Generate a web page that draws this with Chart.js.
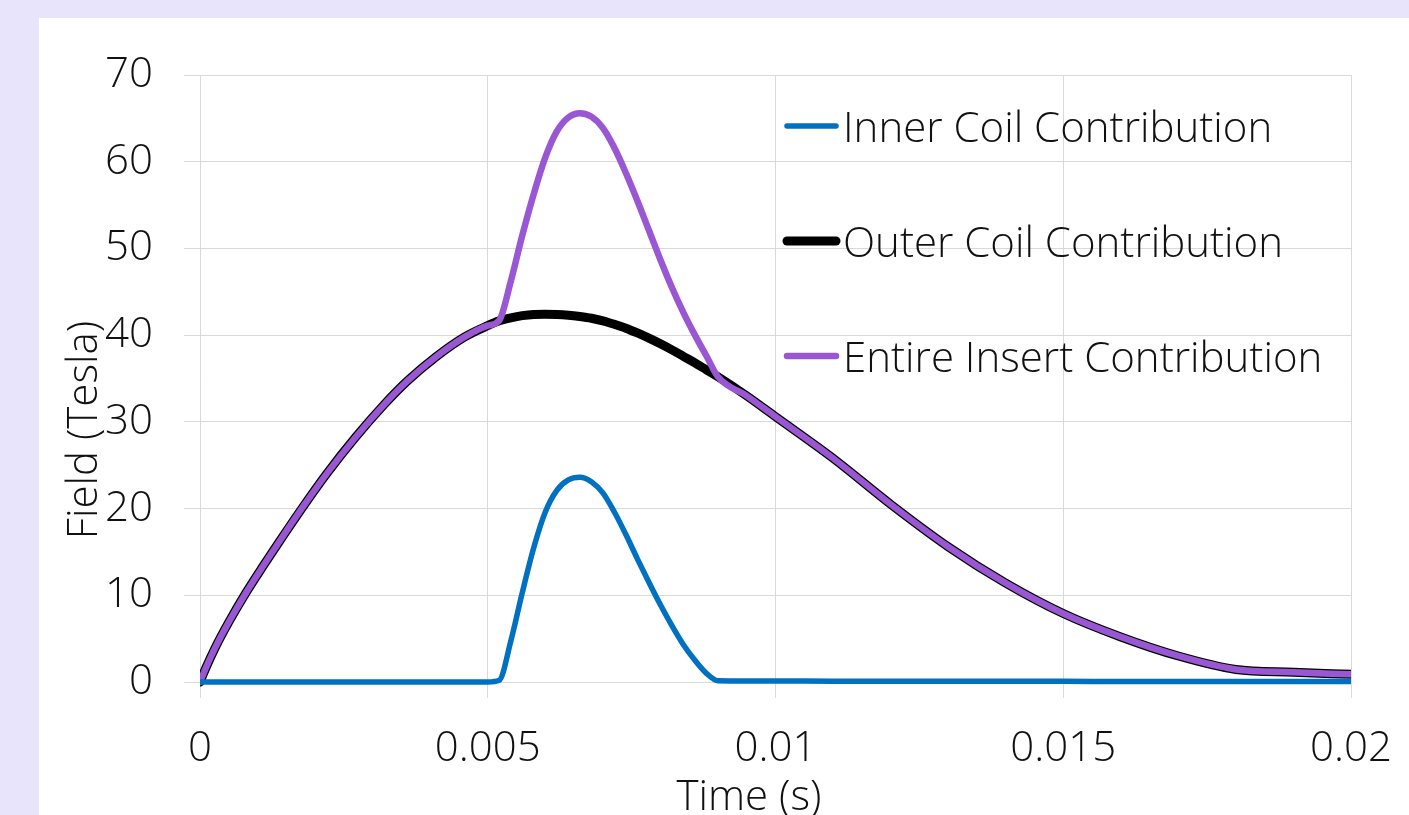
<!DOCTYPE html>
<html><head><meta charset="utf-8">
<script src="https://cdn.jsdelivr.net/npm/chart.js@4.4.0/dist/chart.umd.min.js"></script>
<style>
html,body{margin:0;padding:0;background:#e8e4fb;width:1409px;height:815px;overflow:hidden}
#panel{position:absolute;left:39px;top:18px;width:1370px;height:797px;background:#fff}
#wrap{position:absolute;left:0;top:0;width:1409px;height:815px}
</style></head><body>
<div id="panel"></div>
<div id="wrap"><canvas id="c" width="1409" height="815"></canvas></div>
<script>
// ---- data ----
const timeValues = [0, 0.0001, 0.00026, 0.0005, 0.0008, 0.0011, 0.0014, 0.0018, 0.0022, 0.0027, 0.0032, 0.0036, 0.0041, 0.0046, 0.005, 0.0052,
  0.0054, 0.0056, 0.0058, 0.006, 0.0062, 0.0064, 0.0066, 0.0068, 0.007, 0.0072, 0.0074, 0.0076, 0.0078, 0.008, 0.0082, 0.0084, 0.0086, 0.0088, 0.009,
  0.0095, 0.01, 0.011, 0.012, 0.013, 0.014, 0.015, 0.016, 0.017, 0.018, 0.019, 0.02];
const innerCoil = [0, 0, 0, 0, 0, 0, 0, 0, 0, 0, 0, 0, 0, 0, 0, 0.2,
  4.7, 10.3, 15.5, 19.6, 22.1, 23.3, 23.6, 23.1, 21.8, 19.6, 17.0, 14.2, 11.5, 8.9, 6.5, 4.3, 2.5, 1.0, 0.15,
  0.12, 0.12, 0.1, 0.1, 0.1, 0.08, 0.08, 0.06, 0.06, 0.05, 0.05, 0.05];
const outerCoil = [0, 1.6, 3.9, 6.9, 10.3, 13.4, 16.4, 20.3, 24.0, 28.2, 32.0, 34.7, 37.5, 39.8, 41.1, 41.65,
  42.0, 42.25, 42.38, 42.4, 42.38, 42.3, 42.15, 41.95, 41.65, 41.25, 40.8, 40.25, 39.65, 39.0, 38.3, 37.55, 36.8, 36.0, 35.2,
  33.0, 30.6, 25.8, 20.5, 15.6, 11.4, 7.9, 5.2, 3.0, 1.45, 1.12, 0.88];
const entireInsert = [0, 1.6, 3.9, 6.9, 10.3, 13.4, 16.4, 20.3, 24.0, 28.2, 32.0, 34.7, 37.5, 39.8, 41.1, 41.7,
  46.2, 51.5, 56.3, 60.5, 63.5, 65.1, 65.6, 65.2, 63.9, 61.6, 58.7, 55.5, 52.1, 48.7, 45.5, 42.6, 40.0, 37.6, 35.2,
  33.0, 30.6, 25.8, 20.5, 15.6, 11.4, 7.9, 5.2, 3.0, 1.45, 1.12, 0.88];
const seriesNames = ['Inner Coil Contribution', 'Outer Coil Contribution', 'Entire Insert Contribution'];
const xTickValues = [0, 0.005, 0.01, 0.015, 0.02];
const xTickLabels = ['0', '0.005', '0.01', '0.015', '0.02'];
const yTickValues = [0, 10, 20, 30, 40, 50, 60, 70];
const yTickLabels = ['0', '10', '20', '30', '40', '50', '60', '70'];
const xAxisTitle = 'Time (s)';
const yAxisTitle = 'Field (Tesla)';

// ---- styling ----
const FONT = '"Open Sans", "Segoe UI", "DejaVu Sans", sans-serif';
const TXT = '#111111';
const FS = 42;
const pts = arr => timeValues.map((t, i) => ({x: t, y: arr[i]}));
const CLIP = {left: 0, right: 0, top: 12, bottom: 12};

const legendPlugin = {
  id: 'insideLegend',
  afterDraw(chart) {
    const ctx = chart.ctx;
    const rows = [126, 241, 356];
    ctx.save();
    ctx.font = '300 ' + FS + 'px ' + FONT;
    ctx.fillStyle = TXT;
    ctx.textAlign = 'left';
    ctx.textBaseline = 'alphabetic';
    chart.data.datasets.forEach((ds, i) => {
      const y = rows[i];
      ctx.beginPath();
      ctx.lineCap = 'round';
      ctx.strokeStyle = ds.borderColor;
      ctx.lineWidth = ds.borderWidth;
      ctx.moveTo(787, y);
      ctx.lineTo(836, y);
      ctx.stroke();
      ctx.fillText(ds.label, 843, y + 16);
    });
    ctx.restore();
  }
};

const titlePlugin = {
  id: 'axisTitles',
  afterDraw(chart) {
    const ctx = chart.ctx;
    ctx.save();
    ctx.font = '300 ' + FS + 'px ' + FONT;
    ctx.fillStyle = TXT;
    ctx.textAlign = 'center';
    ctx.textBaseline = 'alphabetic';
    ctx.fillText(xAxisTitle, 749, 810);
    ctx.translate(97, 430);
    ctx.rotate(-Math.PI / 2);
    ctx.fillText(yAxisTitle, 0, 0);
    ctx.restore();
  }
};

new Chart(document.getElementById('c'), {
  type: 'line',
  data: {
    datasets: [
      {label: seriesNames[0], data: pts(innerCoil), borderColor: '#0070c0', borderWidth: 5.5, order: 0, clip: CLIP},
      {label: seriesNames[1], data: pts(outerCoil), borderColor: '#000000', borderWidth: 9, order: 2, clip: CLIP},
      {label: seriesNames[2], data: pts(entireInsert), borderColor: '#9a57d3', borderWidth: 6.5, order: 1, clip: CLIP}
    ]
  },
  options: {
    responsive: false,
    devicePixelRatio: 1,
    animation: false,
    events: [],
    layout: {padding: {left: 0, top: 75, right: 58, bottom: 0}},
    elements: {
      point: {radius: 0},
      line: {cubicInterpolationMode: 'monotone', borderCapStyle: 'round', borderJoinStyle: 'round', fill: false}
    },
    plugins: {legend: {display: false}, tooltip: {enabled: false}},
    scales: {
      x: {
        type: 'linear', min: 0, max: 0.02,
        afterBuildTicks: s => { s.ticks = xTickValues.map(v => ({value: v})); },
        afterFit: s => { s.height = 133; s.paddingLeft = 0; s.paddingRight = 0; },
        grid: {color: '#d9d9d9', lineWidth: 1, tickLength: 16, drawTicks: true},
        border: {display: false},
        ticks: {
          font: {family: FONT, size: FS, weight: '300'}, color: TXT, padding: 26, maxRotation: 0,
          callback: (v, i) => xTickLabels[i]
        }
      },
      y: {
        type: 'linear', min: 0, max: 70,
        afterBuildTicks: s => { s.ticks = yTickValues.map(v => ({value: v})); },
        afterFit: s => { s.width = 200; s.paddingTop = 0; s.paddingBottom = 0; },
        grid: {color: '#d9d9d9', lineWidth: 1, tickLength: 16, drawTicks: true},
        border: {display: false},
        ticks: {
          font: {family: FONT, size: FS, weight: '300'}, color: TXT, padding: 31,
          callback: (v, i) => yTickLabels[i]
        }
      }
    }
  },
  plugins: [legendPlugin, titlePlugin]
});
</script>
</body></html>
